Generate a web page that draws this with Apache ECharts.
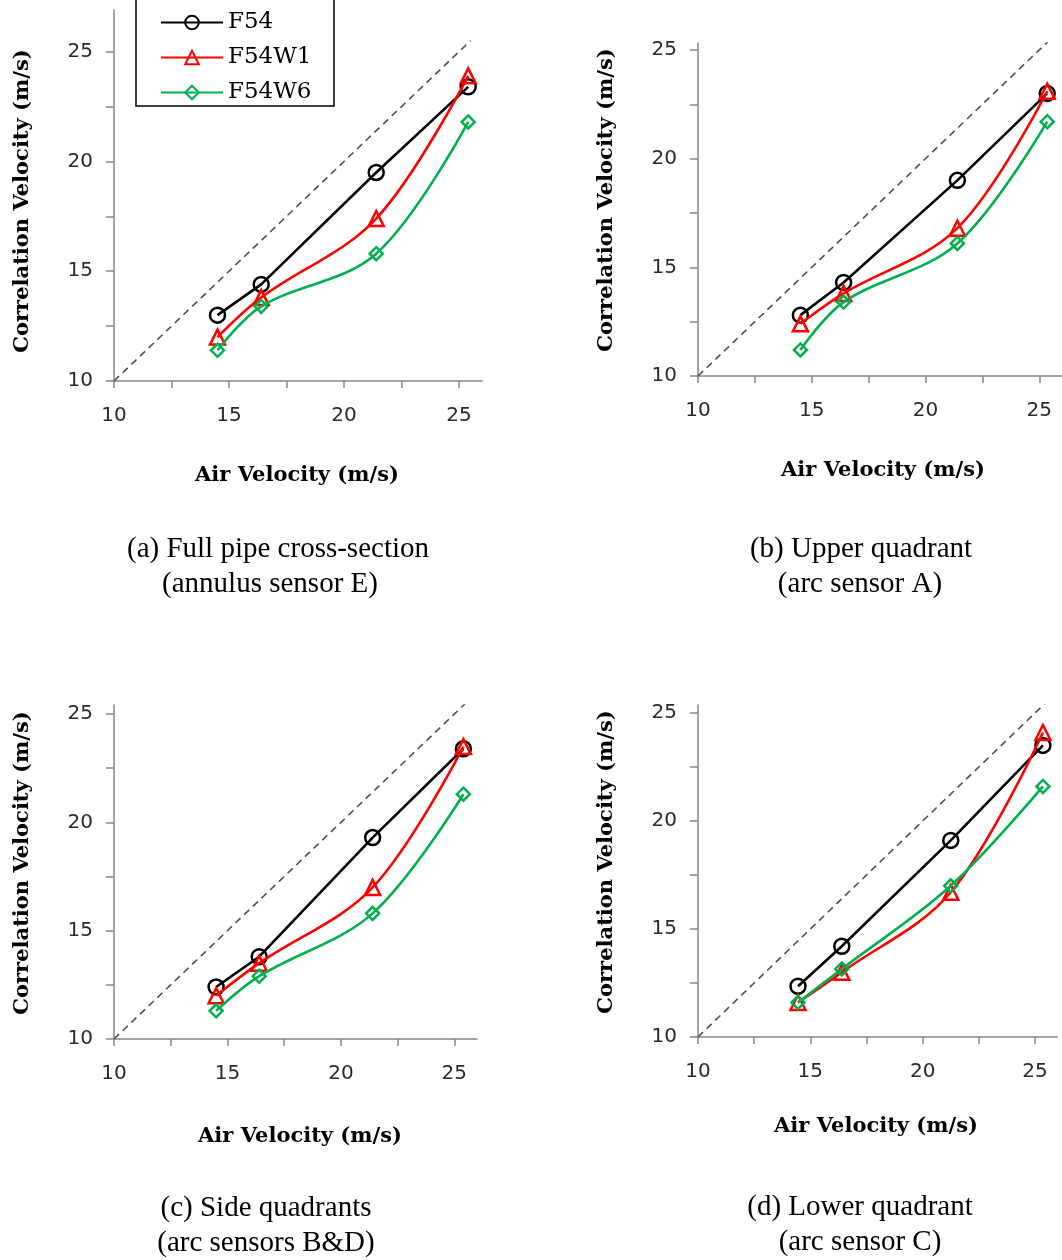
<!DOCTYPE html>
<html>
<head>
<meta charset="utf-8">
<script src="https://cdn.jsdelivr.net/npm/echarts@6/dist/echarts.min.js"></script>
<style>
html,body{margin:0;padding:0;background:#fff;}
#chart{width:1062px;height:1260px;}
</style>
</head>
<body>
<div id="chart"></div>
<script>
// ---- data ----
var seriesNames = ['F54', 'F54W1', 'F54W6'];
var xTicks = [10, 15, 20, 25];
var yTicks = [10, 15, 20, 25];
var minorTicks = [10, 12.5, 15, 17.5, 20, 22.5, 25];
var diagonal = [10, 25.5];

var airA = [14.5, 16.4, 21.4, 25.4];
var f54A = [13.0, 14.4, 19.5, 23.4];
var f54w1A = [12.0, 13.8, 17.4, 23.9];
var f54w6A = [11.4, 13.4, 15.8, 21.8];

var airB = [14.5, 16.4, 21.4, 25.35];
var f54B = [12.8, 14.3, 19.0, 23.0];
var f54w1B = [12.4, 13.8, 16.8, 23.1];
var f54w6B = [11.2, 13.4, 16.1, 21.7];

var airC = [14.5, 16.4, 21.4, 25.4];
var f54C = [12.4, 13.8, 19.3, 23.4];
var f54w1C = [12.0, 13.5, 17.0, 23.5];
var f54w6C = [11.3, 12.9, 15.8, 21.3];

var airD = [14.45, 16.4, 21.25, 25.35];
var f54D = [12.35, 14.2, 19.1, 23.5];
var f54w1D = [11.6, 13.0, 16.7, 24.1];
var f54w6D = [11.6, 13.15, 17.0, 21.6];

var captions = [
  ['(a) Full pipe cross-section', '(annulus sensor E)'],
  ['(b) Upper quadrant', '(arc sensor A)'],
  ['(c) Side quadrants', '(arc sensors B&D)'],
  ['(d) Lower quadrant', '(arc sensor C)']
];
var xTitle = 'Air Velocity (m/s)';
var yTitle = 'Correlation Velocity (m/s)';

// ---- layout / style ----
var panels = [
  {x: airA, ys: [f54A, f54w1A, f54w6A], grid: {left: 114, top: 10, width: 368, height: 371}, ymax: 26.9,
   yt: [23, 201], xt: [297, 476], cap: [[278, 549], [270, 584]]},
  {x: airB, ys: [f54B, f54w1B, f54w6B], grid: {left: 698, top: 43, width: 364, height: 333}, ymax: 25.32,
   yt: [607, 200], xt: [883, 471], cap: [[861, 549], [860, 584]]},
  {x: airC, ys: [f54C, f54w1C, f54w6C], grid: {left: 114, top: 705, width: 363, height: 334}, ymax: 25.42,
   yt: [23, 863], xt: [300, 1137], cap: [[266, 1208], [266, 1243]]},
  {x: airD, ys: [f54D, f54w1D, f54w6D], grid: {left: 698, top: 705, width: 359.5, height: 332}, ymax: 25.37,
   yt: [607, 862], xt: [876, 1127], cap: [[860, 1207], [860, 1242]]}
];
var colors = ['#000000', '#ff0000', '#00b050'];
var symbols = ['circle', 'triangle', 'diamond'];
var symSizes = [15, 15, 13];
var smooths = [false, 0.35, 0.35];

var axisColor = '#868686';
var labelFont = {fontFamily: 'DejaVu Sans', fontSize: 20, color: '#2a2a2a'};
var titleFont = 'bold 21px "DejaVu Serif"';

var grids = [], xAxes = [], yAxes = [], series = [], graphics = [];

panels.forEach(function (p, i) {
  grids.push(p.grid);
  xAxes.push({
    type: 'value', gridIndex: i, min: 10, max: 26,
    axisLine: {show: true, onZero: false, lineStyle: {color: axisColor, width: 1.5}},
    axisTick: {show: true, inside: false, length: 7, customValues: minorTicks, lineStyle: {color: axisColor, width: 1.5}},
    axisLabel: {margin: 25, customValues: xTicks, fontFamily: labelFont.fontFamily, fontSize: labelFont.fontSize, color: labelFont.color},
    splitLine: {show: false}
  });
  yAxes.push({
    type: 'value', gridIndex: i, min: 10, max: p.ymax,
    axisLine: {show: true, onZero: false, lineStyle: {color: axisColor, width: 1.5}},
    axisTick: {show: true, inside: false, length: 8, customValues: minorTicks, lineStyle: {color: axisColor, width: 1.5}},
    axisLabel: {margin: 21, customValues: yTicks, fontFamily: labelFont.fontFamily, fontSize: labelFont.fontSize, color: labelFont.color},
    splitLine: {show: false}
  });
  series.push({
    type: 'line', name: 'diag', xAxisIndex: i, yAxisIndex: i, silent: true, symbol: 'none',
    data: diagonal.map(function (v) { return [v, v]; }),
    lineStyle: {color: '#505050', width: 1.6, type: [7, 5]}, z: 1
  });
  p.ys.forEach(function (ys, k) {
    series.push({
      type: 'line', name: seriesNames[k], xAxisIndex: i, yAxisIndex: i,
      data: p.x.map(function (xv, j) { return [xv, ys[j]]; }),
      smooth: smooths[k], symbol: symbols[k], symbolSize: symSizes[k], showAllSymbol: true,
      lineStyle: {color: colors[k], width: 2.6},
      itemStyle: {color: 'rgba(255,255,255,0)', borderColor: colors[k], borderWidth: 2.5},
      z: 3 + k
    });
  });
  graphics.push({
    type: 'text', x: p.yt[0], y: p.yt[1], rotation: Math.PI / 2,
    style: {text: yTitle, font: titleFont, fill: '#000', align: 'center', verticalAlign: 'middle'}
  });
  graphics.push({
    type: 'text', x: p.xt[0], y: p.xt[1],
    style: {text: xTitle, font: titleFont, fill: '#000', align: 'center', verticalAlign: 'middle'}
  });
  captions[i].forEach(function (c, j) {
    graphics.push({
      type: 'text', x: p.cap[j][0], y: p.cap[j][1],
      style: {text: c, font: '29px "Liberation Serif"', fill: '#000', align: 'center', verticalAlign: 'middle'}
    });
  });
});

// legend border box
graphics.push({
  type: 'rect', shape: {x: 136, y: -5, width: 198, height: 111},
  style: {fill: 'rgba(0,0,0,0)', stroke: '#000', lineWidth: 1.5}, z: 10
});

var option = {
  animation: false,
  backgroundColor: '#fff',
  grid: grids,
  xAxis: xAxes,
  yAxis: yAxes,
  legend: {
    data: seriesNames, orient: 'vertical', left: 160, top: 11, padding: 0,
    itemWidth: 62, itemHeight: 17, itemGap: 12, itemTextGap: 11,
    textStyle: {fontFamily: 'DejaVu Serif', fontSize: 23, color: '#000'}
  },
  graphic: graphics,
  series: series
};

var chart = echarts.init(document.getElementById('chart'), null, {renderer: 'canvas'});
chart.setOption(option);
</script>
</body>
</html>
